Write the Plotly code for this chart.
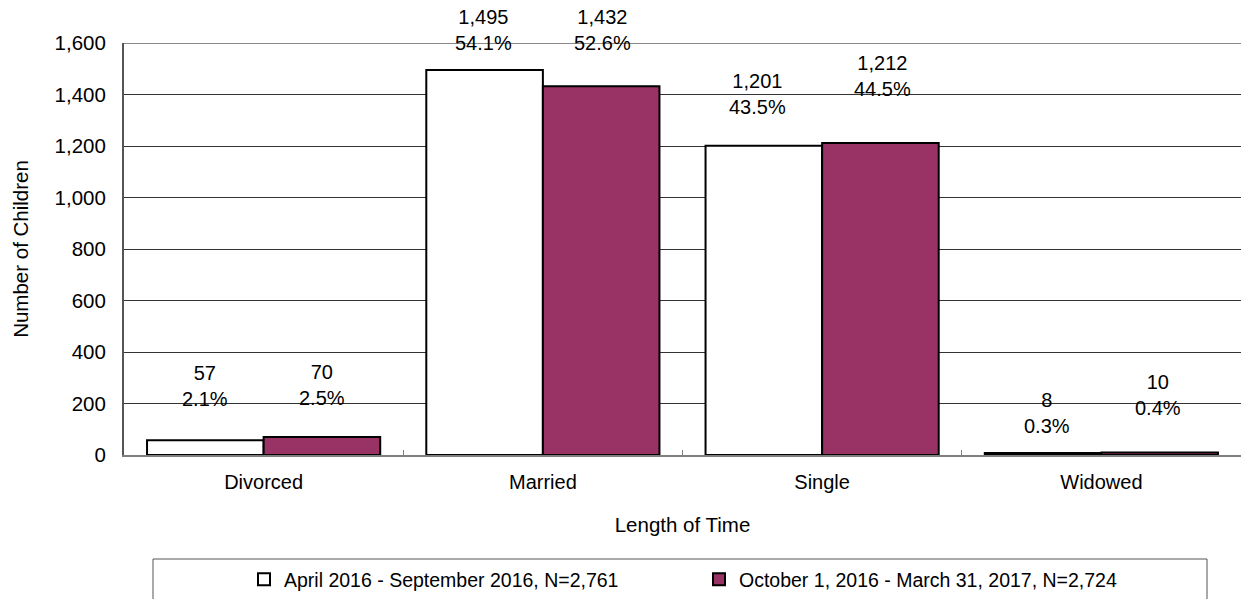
import plotly.graph_objects as go

# Marital status counts for two reporting periods
categories = ["Divorced", "Married", "Single", "Widowed"]
period_a_name = "April 2016 - September 2016, N=2,761"
period_b_name = "October 1, 2016 - March 31, 2017, N=2,724"
period_a_counts = [57, 1495, 1201, 8]
period_b_counts = [70, 1432, 1212, 10]
period_a_pct = ["2.1%", "54.1%", "43.5%", "0.3%"]
period_b_pct = ["2.5%", "52.6%", "44.5%", "0.4%"]
y_ticks = [0, 200, 400, 600, 800, 1000, 1200, 1400, 1600]

# label placement: pixels above the bar top, and small sideways nudges
lift_a = [54, 40, 52, 40]
lift_b = [52, 56, 67, 57]
nudge_a = [0, -1, -6, 4]
nudge_b = [0, 1, 2, -2]

FONT = "Liberation Sans, Arial, sans-serif"
PLUM = "#993366"
W, H = 1241, 599
ML, MR, MT, MB = 124, 0, 43, 144
BARGAP = 0.165

fig = go.Figure()
fig.add_trace(go.Bar(
    x=categories, y=period_a_counts, name=period_a_name,
    marker=dict(color="white", line=dict(color="black", width=2)),
))
fig.add_trace(go.Bar(
    x=categories, y=period_b_counts, name=period_b_name,
    marker=dict(color=PLUM, line=dict(color="black", width=2)),
))

# value + share labels above each bar
cat_px = (W - ML - MR) / len(categories)
half = cat_px * (1 - BARGAP) / 4
for i, c in enumerate(categories):
    for val, pct, lift, nudge, side in (
        (period_a_counts[i], period_a_pct[i], lift_a[i], nudge_a[i], -1),
        (period_b_counts[i], period_b_pct[i], lift_b[i], nudge_b[i], 1),
    ):
        fig.add_annotation(
            x=c, y=val, xref="x", yref="y",
            text=f"{val:,}<br>{pct}",
            showarrow=False, xanchor="center", yanchor="middle",
            xshift=side * half + nudge, yshift=lift,
            font=dict(family=FONT, size=20, color="black"),
        )

# top border of plot area
fig.add_shape(type="line", xref="paper", yref="y", x0=0, x1=1, y0=1600, y1=1600,
              line=dict(color="#8a8a8a", width=2))

# legend frame
ph = H - MT - MB
pw = W - ML - MR
fig.add_shape(type="rect", xref="paper", yref="paper",
              x0=(153 - ML) / pw, x1=(1207 - ML) / pw,
              y0=(455 - 610) / ph, y1=(455 - 559) / ph,
              line=dict(color="#555555", width=1), fillcolor="white", layer="below")

fig.update_layout(
    width=W, height=H,
    margin=dict(l=ML, r=MR, t=MT, b=MB),
    paper_bgcolor="white", plot_bgcolor="white",
    barmode="group", bargap=BARGAP, bargroupgap=0,
    font=dict(family=FONT, size=20, color="black"),
    showlegend=True,
    legend=dict(
        orientation="h", x=(244 - ML) / pw, xanchor="left",
        y=(455 - 580) / ph, yanchor="middle",
        bgcolor="rgba(0,0,0,0)", borderwidth=0,
        font=dict(family=FONT, size=19.5, color="black"),
        entrywidth=410, entrywidthmode="pixels",
        itemwidth=30, traceorder="normal",
    ),
    xaxis=dict(
        type="category", showgrid=False,
        showline=True, linecolor="#7f7f7f", linewidth=2,
        ticks="inside", ticklen=5, tickcolor="#7f7f7f", tickson="boundaries",
        ticklabelstandoff=8,
        tickfont=dict(family=FONT, size=20, color="black"),
        title=dict(text="Length of Time", font=dict(family=FONT, size=20.5, color="black"), standoff=26),
        automargin=False,
    ),
    yaxis=dict(
        range=[0, 1600], tickvals=y_ticks, tickformat=",",
        showgrid=True, gridcolor="#333333", gridwidth=1,
        showline=True, linecolor="#555555", linewidth=2,
        zeroline=False, ticks="",
        ticklabelstandoff=12,
        tickfont=dict(family=FONT, size=20.5, color="black"),
        title=dict(text="Number of Children", font=dict(family=FONT, size=20.5, color="black"), standoff=20),
        automargin=False,
    ),
)

fig.write_html("out.html")
